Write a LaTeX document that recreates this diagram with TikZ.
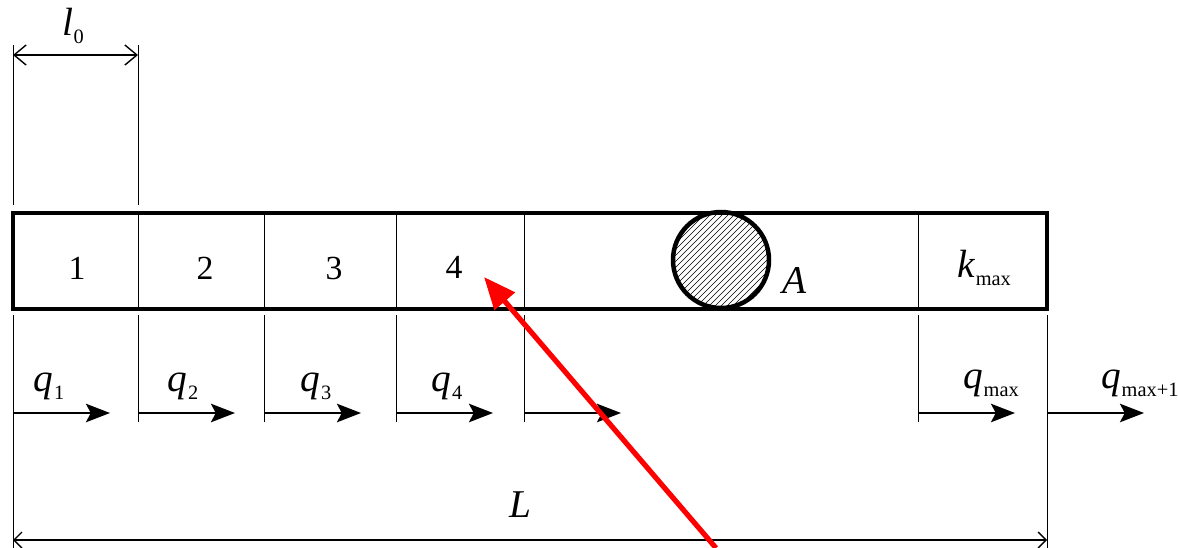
\documentclass[tikz,border=0pt]{standalone}
\usepackage{fontspec}
\setmainfont{Liberation Serif}
\usepackage{tikz}
\usetikzlibrary{positioning, arrows.meta}

\newcommand{\symsub}[2]{\textit{#1}\kern0.5pt\raisebox{-0.45ex}{\fontsize{14.5}{15}\selectfont #2}}

\begin{document}
\begin{tikzpicture}[x=0.25mm, y=-0.25mm, font=\fontsize{24}{28}\selectfont,
    cellline/.style={line width=0.6pt},
    barline/.style={line width=3.4pt},
    flowarrow/.style={-{Stealth[length=6mm, width=4.6mm, inset=1.2mm]}, line width=1.8pt},
    dimarrow/.style={{Straight Barb[length=3mm, width=5mm]}-{Straight Barb[length=3mm, width=5mm]}, line width=1pt},
    letter/.style={font=\fontsize{28}{32}\selectfont}]
  \useasboundingbox (0,0) rectangle (1178,548);

  % Cell borders and flow arrows
  \foreach \cid/\x in {c0/13, c1/138, c2/264, c3/396, c4/524, c5/918, c6/1047} {
    \coordinate (\cid t) at (\x,213);
    \coordinate (\cid b) at (\x,309);
    \coordinate (\cid d) at (\x,315);
    \coordinate (\cid e) at (\x,422);
    \coordinate (\cid f) at (\x,413);
    \coordinate (\cid h) at ({\x+97},413);
    \draw[flowarrow] (\cid f) -- (\cid h);
  }
  \foreach \cid in {c1,c2,c3,c4,c5} {
    \draw[cellline] (\cid t) -- (\cid b);
    \draw[cellline] (\cid d) -- (\cid e);
  }

  % Extension lines
  \coordinate (c0u) at (13,45);
  \coordinate (c0v) at (13,205);
  \coordinate (c1u) at (138,45);
  \coordinate (c1v) at (138,205);
  \coordinate (c0z) at (13,548);
  \coordinate (c6z) at (1047,548);
  \draw[cellline] (c0u) -- (c0v);
  \draw[cellline] (c1u) -- (c1v);
  \draw[cellline] (c0d) -- (c0z);
  \draw[cellline] (c6d) -- (c6z);

  % Bar
  \draw[barline] (c0t) rectangle (c6b);

  % Cell numbers
  \node (n1) at (77,268) {1};
  \node (n2) at (205,268) {2};
  \node (n3) at (334,268) {3};
  \node (n4) at (454,267) {4};
  \node[letter] (kmax) at (984,268) {\symsub{k}{max}};

  % Hatched inclusion
  \coordinate (hole) at (721,260);
  \begin{scope}
    \clip (hole) circle (48);
    \foreach \d in {-110,-104,...,110}
      \draw[line width=0.45pt, shift={(hole)}] ({\d-60},60) -- ({\d+60},-60);
  \end{scope}
  \draw[line width=3.2pt] (hole) circle (48);
  \node[letter] (lblA) at (795,281) {\textit{A}};

  % Flow labels
  \node[letter] (q1) at (49,386) {\symsub{q}{1}};
  \node[letter] (q2) at (183,386) {\symsub{q}{2}};
  \node[letter] (q3) at (316,386) {\symsub{q}{3}};
  \node[letter] (q4) at (447,386) {\symsub{q}{4}};
  \node[letter] (qmax) at (991,383) {\symsub{q}{max}};
  \node[letter, anchor=west, inner sep=0pt] (qmaxone) at (1101,383) {\symsub{q}{max+1}};

  % Dimensions
  \coordinate (l0a) at (13,55);
  \coordinate (l0b) at (138,55);
  \draw[dimarrow] (l0a) -- (l0b);
  \node[letter] (l0lbl) at (73,26) {\symsub{l}{0}};
  \coordinate (La) at (13,540);
  \coordinate (Lb) at (1047,540);
  \draw[{Straight Barb[length=2mm, width=4mm]}-{Straight Barb[length=2mm, width=4mm]}, line width=1pt] (La) -- (Lb);
  \node[letter] (Llbl) at (520,505) {\textit{L}};

  % Pointer
  \coordinate (ptr) at (716,548);
  \coordinate (ptrtip) at (484,277);
  \draw[red, line width=1.3mm, -{Triangle[length=8mm, width=6.5mm]}] (ptr) -- (ptrtip);
\end{tikzpicture}
\end{document}
